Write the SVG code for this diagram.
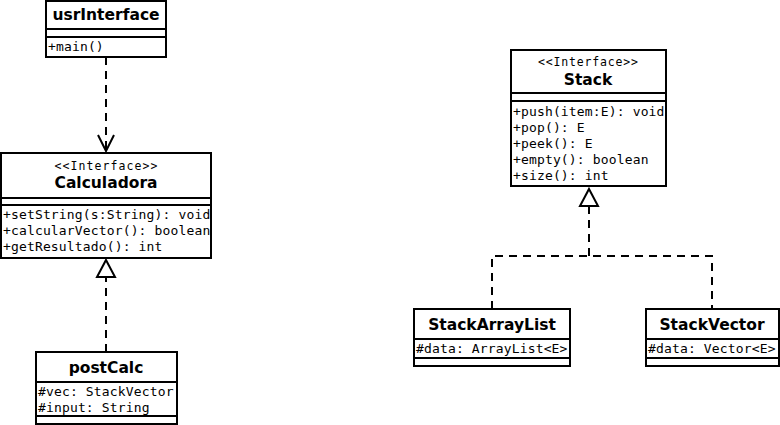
<svg xmlns="http://www.w3.org/2000/svg" width="780" height="425" viewBox="0 0 780 425">
<style>
.box{fill:#fff;stroke:#000;stroke-width:2}
.sep{stroke:#000;stroke-width:2}
.title{font-family:"DejaVu Sans","Liberation Sans",sans-serif;font-weight:bold;font-size:15.5px;text-anchor:middle;fill:#000}
.st{font-family:"DejaVu Sans Mono","Liberation Mono",monospace;font-size:11.5px;text-anchor:middle;fill:#000}
.m{font-family:"DejaVu Sans Mono","Liberation Mono",monospace;font-size:13px;letter-spacing:0.15px;fill:#000}
.dash{fill:none;stroke:#000;stroke-width:2;stroke-dasharray:8 6}
.head{fill:#fff;stroke:#000;stroke-width:2}
</style>
<defs>
<clipPath id="clipCalc"><rect x="1" y="153" width="210" height="105"/></clipPath>
</defs>
<rect width="780" height="425" fill="#fff"/>
<g id="connectors">
<path class="dash" d="M106,57 V150"/>
<path d="M98,135 L106,151 L114,135" fill="none" stroke="#000" stroke-width="2"/>
<path class="dash" d="M106,352 V277"/>
<path class="head" d="M106,260 L115,277 L97,277 Z"/>
<path class="dash" d="M589,206 V256 M492,309 V256 H712 V309"/>
<path class="head" d="M589,189 L598,206 L580,206 Z"/>
</g>
<g id="usrInterface">
<rect class="box" x="46" y="1" width="120" height="56"/>
<line class="sep" x1="46" y1="29" x2="166" y2="29"/>
<line class="sep" x1="46" y1="37" x2="166" y2="37"/>
<text class="title" x="106" y="20">usrInterface</text>
<text class="m" x="48" y="51">+main()</text>
</g>
<g id="Calculadora">
<rect class="box" x="1" y="153" width="210" height="105"/>
<line class="sep" x1="1" y1="198" x2="211" y2="198"/>
<line class="sep" x1="1" y1="205" x2="211" y2="205"/>
<text class="st" x="106" y="170" textLength="103" lengthAdjust="spacing">&lt;&lt;Interface&gt;&gt;</text>
<text class="title" x="106" y="188">Calculadora</text>
<g clip-path="url(#clipCalc)">
<text class="m" x="3" y="219">+setString(s:String): void</text>
<text class="m" x="3" y="235">+calcularVector(): boolean</text>
<text class="m" x="3" y="251">+getResultado(): int</text>
</g>
</g>
<g id="postCalc">
<rect class="box" x="36" y="352" width="141" height="72"/>
<line class="sep" x1="36" y1="382" x2="177" y2="382"/>
<line class="sep" x1="36" y1="416" x2="177" y2="416"/>
<text class="title" x="106" y="373">postCalc</text>
<text class="m" x="38" y="396">#vec: StackVector</text>
<text class="m" x="38" y="412">#input: String</text>
</g>
<g id="Stack">
<rect class="box" x="511" y="50" width="155" height="136"/>
<line class="sep" x1="511" y1="93" x2="666" y2="93"/>
<line class="sep" x1="511" y1="101" x2="666" y2="101"/>
<text class="st" x="588" y="66" textLength="100" lengthAdjust="spacing">&lt;&lt;Interface&gt;&gt;</text>
<text class="title" x="588" y="85">Stack</text>
<text class="m" x="513" y="116">+push(item:E): void</text>
<text class="m" x="513" y="132">+pop(): E</text>
<text class="m" x="513" y="148">+peek(): E</text>
<text class="m" x="513" y="164">+empty(): boolean</text>
<text class="m" x="513" y="180">+size(): int</text>
</g>
<g id="StackArrayList">
<rect class="box" x="414" y="309" width="156" height="57"/>
<line class="sep" x1="414" y1="339" x2="570" y2="339"/>
<line class="sep" x1="414" y1="358" x2="570" y2="358"/>
<text class="title" x="492" y="330">StackArrayList</text>
<text class="m" x="416" y="353">#data: ArrayList&lt;E&gt;</text>
</g>
<g id="StackVector">
<rect class="box" x="646" y="309" width="133" height="57"/>
<line class="sep" x1="646" y1="339" x2="779" y2="339"/>
<line class="sep" x1="646" y1="358" x2="779" y2="358"/>
<text class="title" x="712" y="330">StackVector</text>
<text class="m" x="648" y="353">#data: Vector&lt;E&gt;</text>
</g>
</svg>
